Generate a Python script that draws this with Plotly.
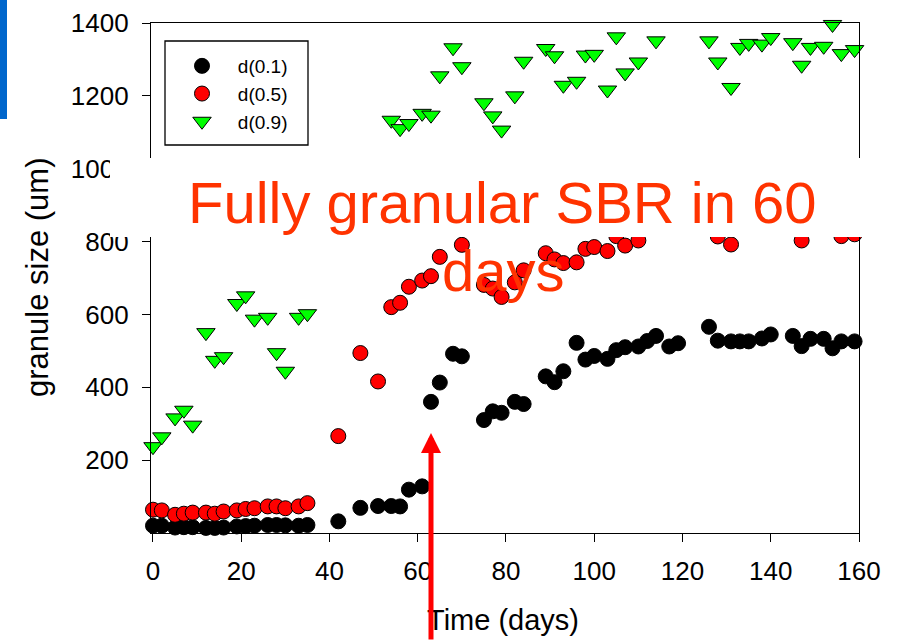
import plotly.graph_objects as go

# ---------------- data ----------------
days_early = [0, 2, 5, 7, 9, 12, 14, 16, 19, 21, 23, 26, 28, 30, 33, 35]

d10_days = days_early + [42, 47, 51, 54, 56, 58, 61, 63, 65, 68, 70,
                         75, 77, 79, 82, 84,
                         89, 91, 93, 96, 98, 100, 103, 105, 107, 110, 112, 114, 117, 119,
                         126, 128, 131, 133, 135, 138, 140,
                         145, 147, 149, 152, 154, 156, 159]
d10_vals = [20, 20, 15, 16, 16, 14, 14, 15, 18, 19, 20, 22, 22, 21, 20, 22,
            32, 69, 74, 74, 73, 119, 128, 360, 413, 492, 485,
            310, 334, 330, 360, 354,
            430, 414, 444, 522, 476, 486, 478, 502, 510, 512, 527, 541, 512, 521,
            566, 528, 526, 526, 526, 534, 545,
            541, 513, 533, 533, 507, 526, 526]

d50_days = days_early + [42, 47, 51, 54, 56, 58, 61, 63, 65, 70,
                         75, 77, 79, 82, 84,
                         89, 91, 93, 96, 98, 100, 103, 105, 107, 110,
                         128, 131, 147, 156, 159]
d50_vals = [64, 62, 50, 53, 56, 56, 53, 59, 62, 66, 68, 73, 73, 68, 73, 82,
            266, 494, 416, 620, 632, 676, 693, 705, 758, 791,
            681, 671, 648, 688, 721,
            768, 751, 741, 743, 780, 785, 774, 815, 789, 803,
            814, 792, 803, 815, 820]

d90_days = days_early + [54, 56, 58, 61, 63, 65, 68, 70,
                         75, 77, 79, 82, 84,
                         89, 91, 93, 96, 98, 100, 103, 105, 107, 110, 114,
                         126, 128, 131, 133, 135, 138, 140,
                         145, 147, 149, 152, 154, 156, 159]
d90_vals = [237, 264, 316, 337, 296, 550, 474, 484, 630, 651, 587, 592, 495, 444, 592, 602,
            1133, 1110, 1124, 1152, 1147, 1255, 1332, 1280,
            1181, 1145, 1106, 1200, 1295,
            1330, 1310, 1229, 1240, 1312, 1314, 1216, 1362, 1263, 1293, 1351,
            1351, 1293, 1223, 1333, 1344, 1342, 1360,
            1346, 1284, 1333, 1336, 1396, 1316, 1327]

x_ticks = [0, 20, 40, 60, 80, 100, 120, 140, 160]
y_ticks = [200, 400, 600, 800, 1000, 1200, 1400]

series_names = ["d(0.1)", "d(0.5)", "d(0.9)"]
note_line1 = "Fully granular SBR in 60"
note_line2 = "days"
x_title = "Time (days)"
y_title = "granule size (um)"

# ---------------- figure ----------------
FONT = "Arial, Liberation Sans, Helvetica, sans-serif"
W, H = 899, 641
L, R, T, B = 151, 40, 23, 108
pw, ph = W - L - R, H - T - B


def px(x):
    return (x - L) / pw


def py(y):
    return (H - B - y) / ph


pad = "\u00a0\u00a0\u00a0"
fig = go.Figure()
fig.add_trace(go.Scatter(x=d10_days, y=d10_vals, mode="markers", name=pad + series_names[0],
                         cliponaxis=False,
                         marker=dict(symbol="circle", size=15, color="#000000",
                                     line=dict(color="#000000", width=1))))
fig.add_trace(go.Scatter(x=d50_days, y=d50_vals, mode="markers", name=pad + series_names[1],
                         cliponaxis=False,
                         marker=dict(symbol="circle", size=15, color="#FF0000",
                                     line=dict(color="#000000", width=1))))
fig.add_trace(go.Scatter(x=d90_days, y=d90_vals, mode="markers", name=pad + series_names[2],
                         cliponaxis=False,
                         marker=dict(symbol="triangle-down", size=16, color="#00FF00",
                                     line=dict(color="#000000", width=1))))

axis_common = dict(showline=True, linecolor="black", linewidth=1.3, mirror=True,
                   ticks="outside", ticklen=8, tickwidth=1.3, tickcolor="black",
                   showgrid=False, zeroline=False,
                   tickfont=dict(family=FONT, size=26, color="black"))

fig.update_xaxes(range=[-0.45, 160], tickvals=x_ticks, ticklabelstandoff=7, **axis_common)
fig.update_yaxes(range=[0, 1400], tickvals=y_ticks, ticklabelstandoff=8, **axis_common)

shapes = [
    # legend frame
    dict(type="rect", xref="paper", yref="paper", x0=px(165), x1=px(308), y0=py(145), y1=py(41),
         line=dict(color="black", width=1.3), fillcolor="rgba(0,0,0,0)", layer="above"),
    # white text box behind the first line of the note
    dict(type="rect", xref="paper", yref="paper", x0=px(110), x1=px(880), y0=py(237), y1=py(158),
         line=dict(width=0), fillcolor="white", layer="above"),
    # blue slide bar at top-left
    dict(type="rect", xref="paper", yref="paper", x0=px(0), x1=px(7), y0=py(119), y1=py(-5),
         line=dict(width=0), fillcolor="#0066CC", layer="above"),
]

annotations = [
    dict(text=y_title, xref="paper", yref="paper", x=px(37), y=py(278), textangle=-90,
         showarrow=False, xanchor="center", yanchor="middle",
         font=dict(family=FONT, size=31, color="black")),
    dict(text=x_title, xref="paper", yref="paper", x=px(503), y=py(620),
         showarrow=False, xanchor="center", yanchor="middle",
         font=dict(family=FONT, size=29, color="black")),
    dict(text=note_line1, xref="paper", yref="paper", x=px(502.5), y=py(203),
         showarrow=False, xanchor="center", yanchor="middle",
         font=dict(family=FONT, size=58, color="#FF3300")),
    dict(text=note_line2, xref="paper", yref="paper", x=px(503), y=py(270.5),
         showarrow=False, xanchor="center", yanchor="middle",
         font=dict(family=FONT, size=58, color="#FF3300")),
    # red arrow
    dict(text="", xref="paper", yref="paper", x=px(431), y=py(433),
         axref="pixel", ayref="pixel", ax=0, ay=240,
         showarrow=True, arrowhead=2, arrowwidth=5, arrowsize=0.8, arrowcolor="#FF0000",
         standoff=0),
]

fig.update_layout(
    width=W, height=H,
    margin=dict(l=L, r=R, t=T, b=B, autoexpand=False),
    paper_bgcolor="white", plot_bgcolor="white",
    font=dict(family=FONT, color="black"),
    shapes=shapes, annotations=annotations,
    showlegend=True,
    legend=dict(x=px(182), y=py(47), xanchor="left", yanchor="top",
                bgcolor="rgba(0,0,0,0)", borderwidth=0,
                font=dict(family=FONT, size=19, color="black"),
                itemclick=False),
)

fig.write_html("out.html",
               config={"displayModeBar": False},
               post_script="document.body.style.margin='0';document.body.style.padding='0';"
                           "document.documentElement.style.overflow='hidden';")
